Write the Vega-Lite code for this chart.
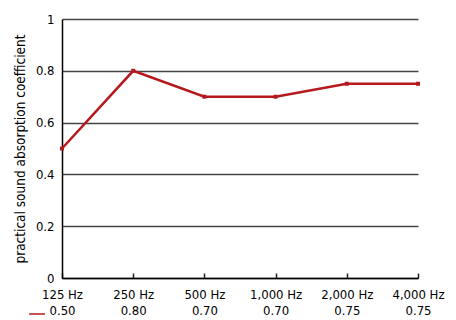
{
  "$schema": "https://vega.github.io/schema/vega-lite/v6.json",
  "width": 356,
  "height": 259,
  "autosize": {"type": "none"},
  "padding": {"left": 62, "top": 19, "right": 38, "bottom": 42},
  "background": "white",
  "config": {
    "font": "Liberation Sans Narrow, DejaVu Sans Condensed, Roboto Condensed, Roboto, sans-serif",
    "view": {"stroke": null}
  },
  "data": {
    "values": [
      {"freq": "125 Hz", "value": 0.50, "series": "absorption"},
      {"freq": "250 Hz", "value": 0.80, "series": "absorption"},
      {"freq": "500 Hz", "value": 0.70, "series": "absorption"},
      {"freq": "1,000 Hz", "value": 0.70, "series": "absorption"},
      {"freq": "2,000 Hz", "value": 0.75, "series": "absorption"},
      {"freq": "4,000 Hz", "value": 0.75, "series": "absorption"}
    ]
  },
  "transform": [
    {"calculate": "datum.freq + '|' + format(datum.value, '.2f')", "as": "label"}
  ],
  "encoding": {
    "x": {
      "field": "label",
      "type": "ordinal",
      "sort": null,
      "scale": {"type": "point", "padding": 0},
      "axis": {
        "title": null,
        "labelAngle": 0,
        "labelExpr": "split(datum.label, '|')",
        "labelFontSize": 13,
        "labelColor": "#000",
        "labelLineHeight": 16,
        "labelPadding": 15,
        "tickSize": -5,
        "tickColor": "#222",
        "tickWidth": 1.5,
        "domainColor": "#000",
        "domainWidth": 1.5,
        "grid": false
      }
    },
    "y": {
      "field": "value",
      "type": "quantitative",
      "scale": {"domain": [0, 1], "nice": false},
      "axis": {
        "title": "practical sound absorption coefficient",
        "titleFontSize": 13.5,
        "titleFontWeight": "normal",
        "titleColor": "#000",
        "titlePadding": 8,
        "values": [0, 0.2, 0.4, 0.6, 0.8, 1],
        "format": ".1~f",
        "labelFontSize": 13,
        "labelColor": "#000",
        "labelPadding": 8,
        "ticks": false,
        "domainColor": "#000",
        "domainWidth": 1.5,
        "grid": true,
        "gridColor": "#444",
        "gridWidth": 1.5,
        "gridOpacity": 1
      }
    },
    "color": {
      "field": "series",
      "type": "nominal",
      "scale": {"range": ["#b5191d"]},
      "legend": {
        "title": null,
        "orient": "none",
        "legendX": -34,
        "legendY": 286,
        "symbolType": "stroke",
        "symbolSize": 250,
        "symbolStrokeWidth": 1.5,
        "labelExpr": "''",
        "labelFontSize": 1,
        "padding": 0
      }
    }
  },
  "layer": [
    {"mark": {"type": "line", "strokeWidth": 2.5}},
    {"mark": {"type": "point", "shape": "square", "filled": true, "size": 16, "opacity": 1}}
  ]
}
